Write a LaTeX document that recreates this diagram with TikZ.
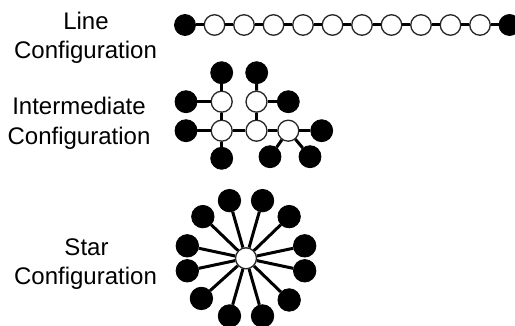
\documentclass[tikz,border=0pt]{standalone}
\usepackage{fontspec}
\setmainfont{Liberation Sans}
\usetikzlibrary{calc}
\begin{document}
\begin{tikzpicture}[x=1pt,y=-1pt,
  bnode/.style={circle,fill=black,draw=black,line width=0.8pt,minimum size=22pt,inner sep=0pt},
  wnode/.style={circle,fill=white,draw=black!85,line width=1.3pt,minimum size=21pt,inner sep=0pt},
  link/.style={line width=3pt,draw=black},
  lbl/.style={anchor=base,inner sep=0pt,font=\fontsize{24}{29}\selectfont}]
\useasboundingbox (0,0) rectangle (515,326);
% labels
\node[lbl] (l1) at (86,29.3) {Line};
\node[lbl] (l2) at (85.5,58.3) {Configuration};
\node[lbl] (i1) at (79,115) {Intermediate};
\node[lbl] (i2) at (79,144.3) {Configuration};
\node[lbl] (s1) at (86.5,255.5) {Star};
\node[lbl] (s2) at (85.5,285) {Configuration};
% line configuration
\node[bnode,minimum size=21pt] (L0) at (185,25) {};
\foreach \k in {1,...,10}{
  \node[wnode,minimum size=20.5pt] (L\k) at ({185+29.5*\k},25) {};
}
\node[bnode,minimum size=21pt] (L11) at (509.5,25) {};
\foreach \k [evaluate=\k as \j using int(\k+1)] in {0,...,10}{
  \draw[link] (L\k) -- (L\j);
}
% intermediate configuration
\node[wnode] (A) at (221.7,101.7) {};
\node[wnode] (B) at (256.5,101.7) {};
\node[wnode] (C) at (221.7,130.7) {};
\node[wnode] (D) at (256.5,130.7) {};
\node[wnode] (E) at (288.3,130.7) {};
\node[bnode] (At) at (221.7,72.7) {};
\node[bnode] (Bt) at (256.7,72.7) {};
\node[bnode] (Al) at (186,101.7) {};
\node[bnode] (Br) at (288.3,101.7) {};
\node[bnode] (Cl) at (186,130.7) {};
\node[bnode] (Er) at (321.7,130.7) {};
\node[bnode] (Cb) at (221.7,158.3) {};
\node[bnode] (Ebl) at (270,156.7) {};
\node[bnode] (Ebr) at (310,156.7) {};
\foreach \a/\b in {A/At,A/Al,A/C,B/Bt,B/Br,B/D,C/Cl,C/D,D/E,E/Er,C/Cb,E/Ebl,E/Ebr}{
  \draw[link] (\a) -- (\b);
}
% star configuration
\node[wnode] (S) at (246,258.3) {};
\foreach \ang [count=\i] in {12,44,74,106,136,168,192,222,254,286,316,348}{
  \node[bnode,minimum size=22.5pt] (S\i) at ($(S)+({60*cos(\ang)},{-60*sin(\ang)})$) {};
  \draw[link] (S) -- (S\i);
}
\end{tikzpicture}
\end{document}
